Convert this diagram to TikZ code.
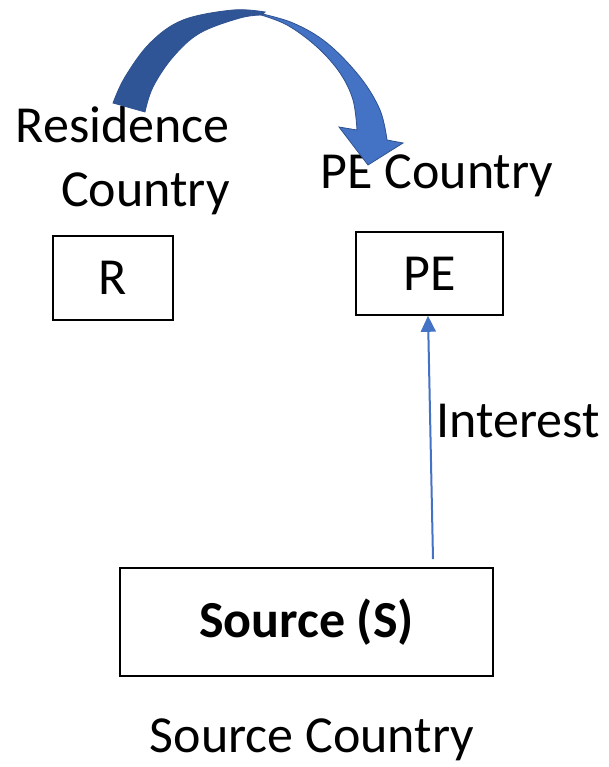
\documentclass[tikz,border=0pt]{standalone}
\usepackage{fontspec}
\setmainfont{Carlito}
\usetikzlibrary{arrows.meta}
\definecolor{arrowblue}{HTML}{4472C4}
\definecolor{arrowdark}{HTML}{2F5597}
\definecolor{arrowedge}{HTML}{2F528F}
\tikzset{bigtext/.style={inner sep=0pt, font=\fontsize{52}{64}\selectfont}}
\tikzset{box/.style={draw, line width=1.6pt, bigtext}}
\tikzset{flow/.style={draw=arrowblue, line width=2pt, -{Triangle[width=15pt, length=16pt]}}}
\tikzset{curvearrow/.style={line width=0.8pt, draw=arrowedge}}

\begin{document}
\begin{tikzpicture}[x=1pt, y=-1pt]
            \useasboundingbox (0,0) rectangle (608,767);
            % countries and their boxes
            \node[box, minimum width=120pt, minimum height=84pt] (r) at (113,278) {R};
            \node[box, minimum width=147pt, minimum height=83pt] (pe) at (429.5,273.5) {PE};
            \node[box, minimum width=373pt, minimum height=108pt, font=\fontsize{52}{64}\selectfont\bfseries] (src) at (306.5,622) {Source (S)};
            \node[bigtext, align=right, anchor=base east] (rc) at (230,207) {Residence\\Country};
            \node[bigtext, anchor=base] (pec) at (437,189) {PE Country};
            \node[bigtext, anchor=base] (sc) at (312,752) {Source Country};
            % interest payment
            \draw[flow] ([xshift=126.5pt, yshift=8pt]src.north) -- ([xshift=-1.5pt]pe.south)
                node[pos=0.5, bigtext, anchor=base west, xshift=5pt] (int) {Interest};
            % curved arrow from R to PE
            \fill[arrowblue, curvearrow] plot[smooth, tension=0.6] coordinates {(258,13) (293,23) (327,43) (360,77) (380,110) (387,140)}
                -- (403,143) -- (368,165) -- (339,127)
                -- plot[smooth, tension=0.6] coordinates {(357,130) (353,100) (340,73) (317,47) (287,25) (258,14)} -- cycle;
            \fill[arrowdark, curvearrow] plot[smooth, tension=0.6] coordinates {(113,103) (125,77) (150,43) (183,20) (233,10) (265,12)}
                -- plot[smooth, tension=0.6] coordinates {(262,15) (240,18) (200,33) (173,57) (153,87) (145,112)} -- cycle;
        \end{tikzpicture}
\end{document}
